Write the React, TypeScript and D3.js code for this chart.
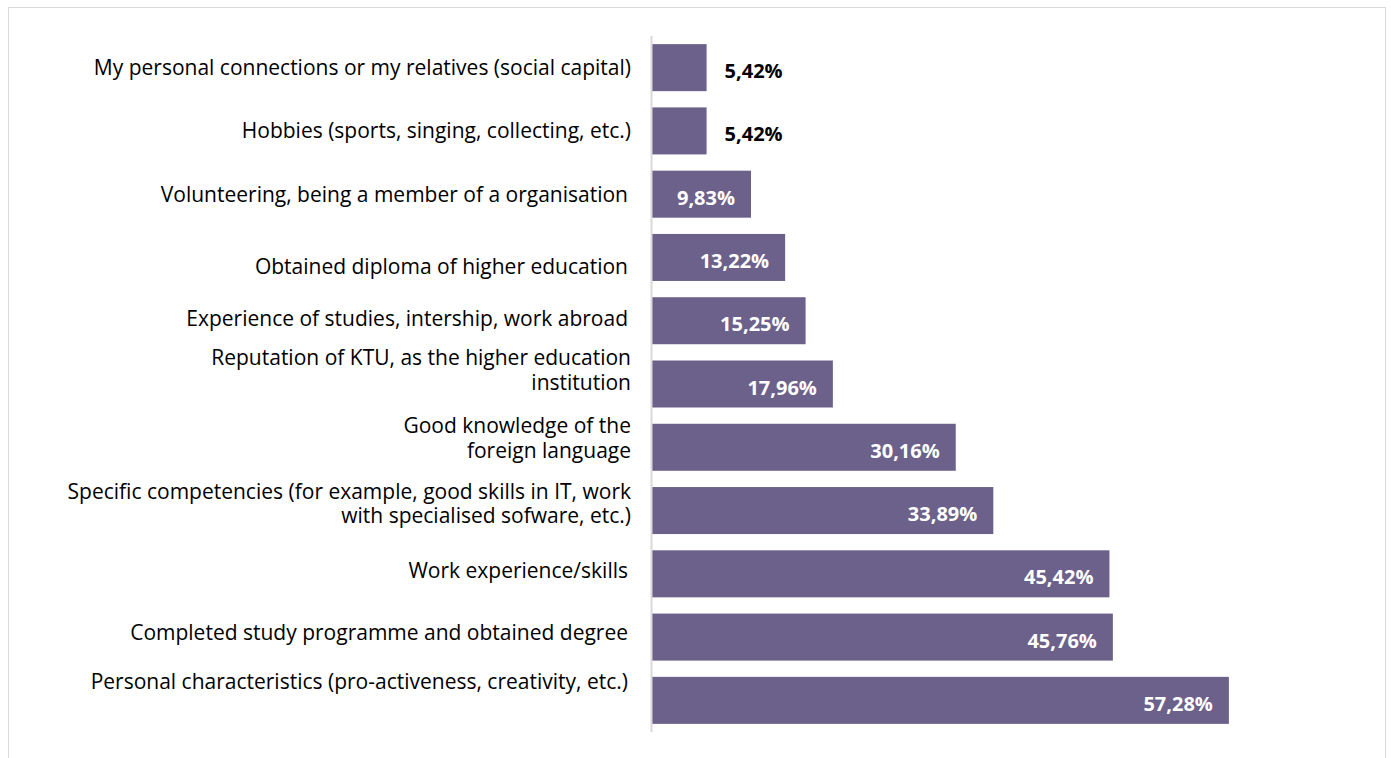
import React from "react";
import * as d3 from "d3";

const categories: string[] = [
  "My personal connections or my relatives (social capital)",
  "Hobbies (sports, singing, collecting, etc.)",
  "Volunteering, being a member of a organisation",
  "Obtained diploma of higher education",
  "Experience of studies, intership, work abroad",
  "Reputation of KTU, as the higher education\ninstitution",
  "Good knowledge of the\nforeign language",
  "Specific competencies (for example, good skills in IT, work\nwith specialised sofware, etc.)",
  "Work experience/skills",
  "Completed study programme and obtained degree",
  "Personal characteristics (pro-activeness, creativity, etc.)",
];

const values: number[] = [5.42, 5.42, 9.83, 13.22, 15.25, 17.96, 30.16, 33.89, 45.42, 45.76, 57.28];

const valueLabels: string[] = [
  "5,42%", "5,42%", "9,83%", "13,22%", "15,25%", "17,96%",
  "30,16%", "33,89%", "45,42%", "45,76%", "57,28%",
];

// label layout tweaks (offsets relative to bar centre), as in the original
const labelDy: number[] = [0, 0, 1, 10, -2, -26, -21, -19, -3, -4, -18];
const labelDx: number[] = [0, 0, -3, -3, -3, 0, 0, 0, -3, -3, -3];

const W = 1391;
const H = 758;
const AXIS_X = 652;
const BAR_COLOR = "#6c618a";
const FONT = "'Open Sans', Lato, sans-serif";

export default function App() {
  const x = d3.scaleLinear().domain([0, 70]).range([AXIS_X, AXIS_X + 705]);
  const y = d3
    .scaleBand<string>()
    .domain(categories)
    .range([36, 732])
    .paddingInner(0.257)
    .paddingOuter(0.1285);
  const bw = y.bandwidth();

  return (
    <svg
      width={W}
      height={H}
      style={{ position: "absolute", left: 0, top: 0, background: "#fff" }}
    >
      <rect x={8.5} y={7.5} width={1377} height={770} fill="#fff" stroke="#d9d9d9" strokeWidth={1} />
      {categories.map((c, i) => {
        const y0 = y(c)!;
        const cy = y0 + bw / 2;
        const inside = values[i] > 8;
        const x1 = x(values[i]);
        const lines = c.split("\n");
        const lx = AXIS_X - 21 + labelDx[i];
        return (
          <g key={i}>
            <rect x={x(0)} y={y0} width={x1 - x(0)} height={bw} fill={BAR_COLOR} />
            <text
              x={inside ? x1 - 16 : x1 + 18}
              y={cy + 3}
              textAnchor={inside ? "end" : "start"}
              dominantBaseline="central"
              fill={inside ? "#ffffff" : "#000000"}
              fontFamily={FONT}
              fontWeight="bold"
              fontSize={20}
            >
              {valueLabels[i]}
            </text>
            <text
              x={lx}
              y={cy + labelDy[i] + 7}
              textAnchor="end"
              fill="#000"
              fontFamily={FONT}
              fontSize={21}
            >
              {lines.map((ln, k) => (
                <tspan key={k} x={lx} dy={k === 0 ? 0 : 24.5}>
                  {ln}
                </tspan>
              ))}
            </text>
          </g>
        );
      })}
      <line x1={AXIS_X - 0.5} x2={AXIS_X - 0.5} y1={36} y2={732} stroke="#d9d9d9" strokeWidth={2} />
    </svg>
  );
}
